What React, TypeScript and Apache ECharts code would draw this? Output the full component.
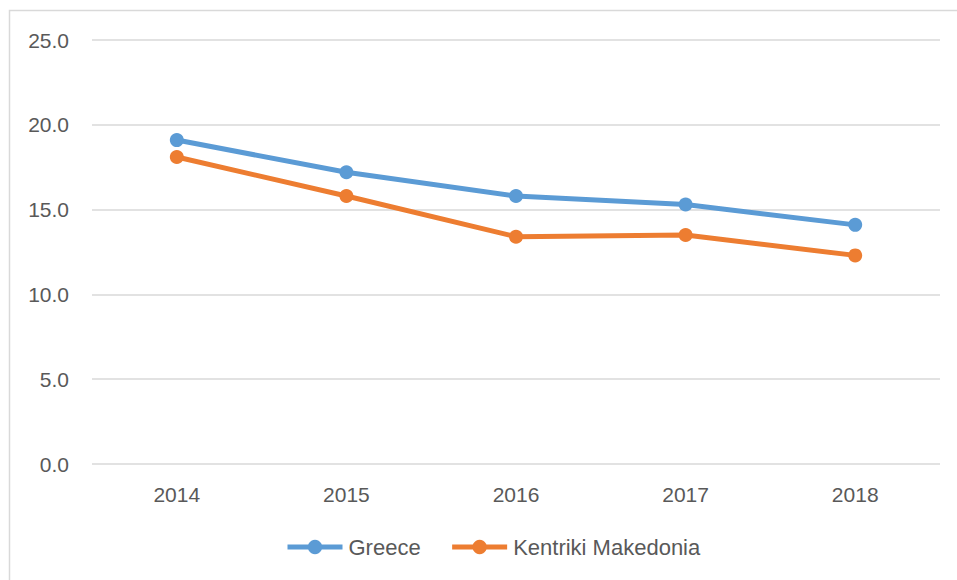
import React, { useEffect, useRef } from "react";
import * as echarts from "echarts";

const years = ["2014", "2015", "2016", "2017", "2018"];
const greece = [19.1, 17.2, 15.8, 15.3, 14.1];
const kentrikiMakedonia = [18.1, 15.8, 13.4, 13.5, 12.3];
const seriesNames = ["Greece", "Kentriki Makedonia"];

const FONT = "Liberation Sans";
const TEXT = "#595959";

export default function App() {
  const ref = useRef<HTMLDivElement>(null);
  useEffect(() => {
    document.body.style.margin = "0";
    const chart = echarts.init(ref.current!, null, { renderer: "svg" });
    const mkSeries = (name: string, data: number[], color: string) => ({
      name,
      type: "line",
      data,
      symbol: "circle",
      symbolSize: 14,
      itemStyle: { color },
      lineStyle: { color, width: 5 },
    });
    chart.setOption({
      animation: false,
      backgroundColor: "#ffffff",
      textStyle: { fontFamily: FONT },
      graphic: [
        {
          type: "rect",
          shape: { x: 9.5, y: 10.5, width: 960, height: 580 },
          style: { fill: "none", stroke: "#d9d9d9", lineWidth: 1.5 },
          silent: true,
        },
      ],
      grid: { left: 92, right: 17, top: 40, bottom: 116, containLabel: false },
      xAxis: {
        type: "category",
        data: years,
        boundaryGap: true,
        axisLine: { show: false },
        axisTick: { show: false },
        axisLabel: { color: TEXT, fontSize: 21, fontFamily: FONT, margin: 20 },
      },
      yAxis: {
        type: "value",
        min: 0,
        max: 25,
        interval: 5,
        axisLine: { show: false },
        axisTick: { show: false },
        splitLine: { lineStyle: { color: "#d9d9d9", width: 1.5 } },
        axisLabel: {
          color: TEXT,
          fontSize: 21,
          fontFamily: FONT,
          margin: 23,
          formatter: (v: number) => v.toFixed(1),
        },
      },
      legend: {
        data: seriesNames,
        bottom: 17,
        left: 280,
        itemWidth: 55,
        itemHeight: 18,
        itemGap: 29,
        lineStyle: { width: 5 },
        textStyle: { color: TEXT, fontSize: 22, fontFamily: FONT, padding: [0, 0, 0, 1] },
      },
      series: [
        mkSeries(seriesNames[0], greece, "#5b9bd5"),
        mkSeries(seriesNames[1], kentrikiMakedonia, "#ed7d31"),
      ],
    });
    return () => chart.dispose();
  }, []);
  return <div ref={ref} style={{ width: 957, height: 580 }} />;
}
